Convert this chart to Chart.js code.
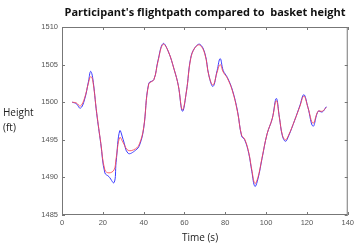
<!DOCTYPE html>
<html>
<head>
<meta charset="utf-8">
<style>
  html, body { margin: 0; padding: 0; background: #fff; }
  #wrap { position: relative; width: 357px; height: 251px; }
</style>
<script src="https://cdn.jsdelivr.net/npm/chart.js@4.4.1/dist/chart.umd.min.js"></script>
</head>
<body>
<div id="wrap"><canvas id="flightChart" width="357" height="251"></canvas></div>
<script>
// Time stamps (s) sampled along the curves
const times = [5, 7, 9, 11, 13, 14, 15, 17, 19, 21, 23, 25.5, 26.5, 28.3, 30, 32.4, 36, 38, 40, 42.5,
  45, 47, 49.5, 52, 55, 57, 59, 61, 63, 65, 67.5, 70, 72, 74, 76, 77.5, 79, 81, 83.5, 86,
  88, 89.5, 91.5, 93, 94.5, 96, 98, 100.5, 103, 105, 106.5, 108, 109.5, 111, 114, 116.5, 118.5, 120.5, 123, 125.5,
  127.5, 129.5];

// Participant's flightpath (blue)
const flightpath = [1500.0, 1499.8, 1499.2, 1500.3, 1502.8, 1504.1, 1503.3, 1498.5, 1494.5, 1490.6,
  1490.1, 1489.3, 1492.0, 1496.2, 1495.0, 1493.2, 1493.6, 1494.3, 1496.5, 1502.5,
  1503.0, 1505.5, 1507.8, 1506.8, 1504.3, 1502.2, 1498.8, 1501.5, 1505.8, 1507.2,
  1507.7, 1506.5, 1503.5, 1502.1, 1504.2, 1505.8, 1504.2, 1503.3, 1501.6, 1498.8,
  1495.5, 1495.0, 1493.2, 1490.8, 1488.8, 1489.8, 1492.5, 1495.8, 1497.8, 1500.5,
  1498.0, 1495.5, 1494.8, 1495.5, 1497.6, 1499.5, 1501.0, 1499.3, 1496.8, 1498.8,
  1498.7, 1499.4];

// Basket height (red)
const basket = [1500.0, 1499.9, 1499.5, 1500.5, 1502.6, 1503.4, 1503.0, 1498.6, 1494.6, 1491.0,
  1490.6, 1491.0, 1492.5, 1495.3, 1494.6, 1493.6, 1493.8, 1494.5, 1496.6, 1502.4,
  1503.0, 1505.4, 1507.7, 1506.8, 1504.3, 1502.2, 1499.0, 1501.5, 1505.7, 1507.2,
  1507.6, 1506.4, 1503.5, 1502.3, 1504.0, 1505.0, 1504.0, 1503.2, 1501.5, 1498.7,
  1495.6, 1495.1, 1493.3, 1491.0, 1489.2, 1490.0, 1492.6, 1495.8, 1497.8, 1500.2,
  1498.0, 1495.6, 1495.0, 1495.6, 1497.6, 1499.4, 1500.8, 1499.3, 1497.2, 1498.8,
  1498.8, 1499.3];

const xTicks = [0, 20, 40, 60, 80, 100, 120, 140];
const yTicks = [1485, 1490, 1495, 1500, 1505, 1510];

const titleText = "Participant's flightpath compared to  basket height";
const yLabel = ['Height', '(ft)'];
const xLabel = 'Time (s)';

// Draws the box, MATLAB-style inward ticks and the free text labels
const framePlugin = {
  id: 'frame',
  afterDatasetsDraw(chart) {
    const c = chart.ctx;
    const a = chart.chartArea;
    const xs = chart.scales.x;
    const ys = chart.scales.y;
    c.save();
    c.strokeStyle = '#777';
    c.lineWidth = 1;
    c.strokeRect(a.left + 0.5, a.top + 0.5, a.right - a.left - 1, a.bottom - a.top - 1);
    c.beginPath();
    xTicks.forEach(v => {
      const px = Math.round(xs.getPixelForValue(v)) + 0.5;
      c.moveTo(px, a.bottom); c.lineTo(px, a.bottom - 3);
      c.moveTo(px, a.top); c.lineTo(px, a.top + 3);
    });
    yTicks.forEach(v => {
      const py = Math.round(ys.getPixelForValue(v)) + 0.5;
      c.moveTo(a.left, py); c.lineTo(a.left + 3, py);
      c.moveTo(a.right, py); c.lineTo(a.right - 3, py);
    });
    c.stroke();

    c.fillStyle = '#111';
    c.font = 'bold 11px "Open Sans"';
    c.textAlign = 'center';
    c.textBaseline = 'middle';
    c.fillText(titleText, 205, 13);

    c.fillStyle = '#222';
    c.font = '10px "Open Sans"';
    c.textAlign = 'left';
    c.fillText(yLabel[0], 3, 113);
    c.fillText(yLabel[1], 3, 128);
    c.textAlign = 'center';
    c.fillText(xLabel, 200, 238);
    c.restore();
  }
};

const ctx = document.getElementById('flightChart').getContext('2d');

const flightChart = new Chart(ctx, {
  type: 'line',
  data: {
    labels: times,
    datasets: [{
      label: 'Flightpath',
      data: times.map((t, i) => ({ x: t, y: flightpath[i] })),
      borderColor: '#3b3bff',
      borderWidth: 1,
      pointRadius: 0,
      tension: 0.4,
      order: 2
    }, {
      label: 'Basket',
      data: times.map((t, i) => ({ x: t, y: basket[i] })),
      borderColor: 'rgba(255, 70, 80, 0.85)',
      borderWidth: 1,
      pointRadius: 0,
      tension: 0.4,
      order: 1
    }]
  },
  options: {
    responsive: false,
    animation: false,
    layout: { padding: { top: 27, right: 8, left: 0, bottom: 0 } },
    plugins: {
      legend: { display: false },
      title: { display: false },
      tooltip: { enabled: false }
    },
    scales: {
      x: {
        type: 'linear',
        min: 0,
        max: 140,
        afterBuildTicks: axis => { axis.ticks = xTicks.map(v => ({ value: v })); },
        afterFit: axis => { axis.height = 36; },
        grid: { display: false, drawTicks: false },
        border: { display: false },
        ticks: {
          color: '#555', font: { family: 'Liberation Sans', size: 7.5 }, padding: 3,
          callback: v => String(v)
        }
      },
      y: {
        min: 1485,
        max: 1510,
        afterBuildTicks: axis => { axis.ticks = yTicks.map(v => ({ value: v })); },
        afterFit: axis => { axis.width = 62; },
        grid: { display: false, drawTicks: false },
        border: { display: false },
        ticks: {
          color: '#555', font: { family: 'Liberation Sans', size: 7.5 }, padding: 4,
          callback: v => String(v)
        }
      }
    }
  },
  plugins: [framePlugin]
});
</script>
</body>
</html>
